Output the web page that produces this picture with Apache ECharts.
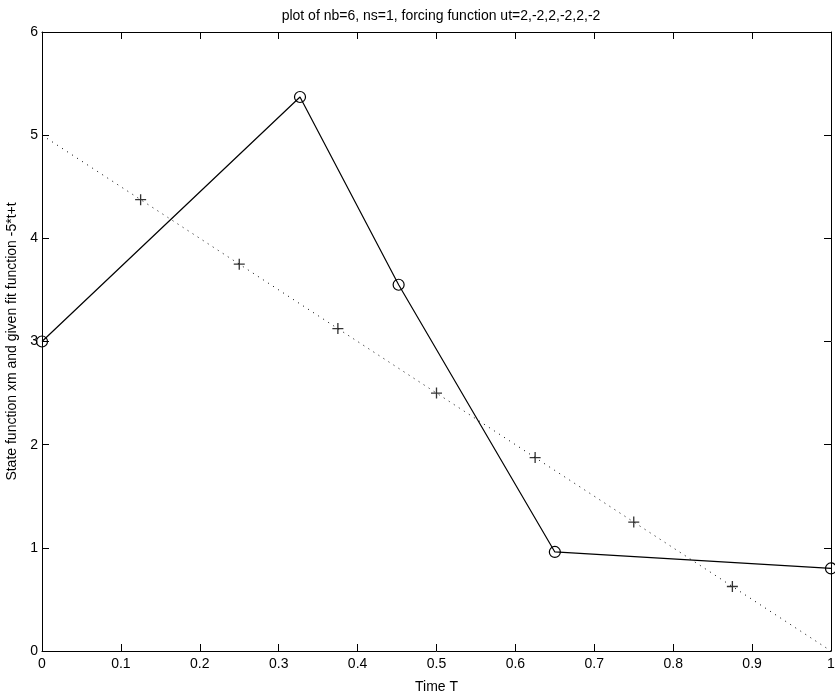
<!DOCTYPE html>
<html>
<head>
<meta charset="utf-8">
<script src="https://cdn.jsdelivr.net/npm/echarts@6/dist/echarts.min.js"></script>
<style>html,body{margin:0;padding:0;background:#fff}#c{width:835px;height:695px}</style>
</head>
<body>
<div id="c"></div>
<script>
var stateT = [0, 0.327, 0.452, 0.650, 1.0];
var stateX = [3.0, 5.37, 3.55, 0.96, 0.80];
var fitT = [0.125, 0.25, 0.375, 0.5, 0.625, 0.75, 0.875];
var fitX = [4.375, 3.75, 3.125, 2.5, 1.875, 1.25, 0.625];
var lineT = [0, 1];
var lineX = [5, 0];
var titleText = 'plot of nb=6, ns=1, forcing function ut=2,-2,2,-2,2,-2';
var xName = 'Time T';
var yName = 'State function xm and given fit function -5*t+t';

function pairs(a, b) { return a.map(function (v, i) { return [v, b[i]]; }); }

var font = 'Liberation Sans, Arial, sans-serif';
var axisCommon = {
  axisLine: { show: true, onZero: false, lineStyle: { color: '#000', width: 1 } },
  axisTick: { show: true, inside: true, length: 7, lineStyle: { color: '#000' } },
  splitLine: { show: false }
};
var chart = echarts.init(document.getElementById('c'));
chart.setOption({
  animation: false,
  backgroundColor: '#fff',
  title: { text: titleText, left: 436, top: 4, textAlign: 'center',
    textStyle: { fontFamily: font, fontSize: 14, fontWeight: 'normal', color: '#000' } },
  grid: { left: 42, right: 4, top: 32, bottom: 44, containLabel: false, outerBoundsMode: 'none' },
  xAxis: [
    Object.assign({ type: 'value', min: 0, max: 1, interval: 0.1, position: 'bottom',
      name: xName, nameLocation: 'middle', nameGap: 29,
      nameTextStyle: { fontFamily: font, fontSize: 14, color: '#000' },
      axisLabel: { fontFamily: font, fontSize: 14, color: '#000', margin: 6 } }, axisCommon),
    Object.assign({ type: 'value', min: 0, max: 1, interval: 0.1, position: 'top',
      axisLabel: { show: false } }, axisCommon)
  ],
  yAxis: [
    Object.assign({ type: 'value', min: 0, max: 6, interval: 1, position: 'left',
      name: yName, nameLocation: 'middle', nameGap: 18,
      nameTextStyle: { fontFamily: font, fontSize: 14, color: '#000' },
      axisLabel: { fontFamily: font, fontSize: 14, color: '#000', margin: 4 } }, axisCommon),
    Object.assign({ type: 'value', min: 0, max: 6, interval: 1, position: 'right',
      axisLabel: { show: false } }, axisCommon)
  ],
  series: [
    { type: 'line', data: pairs(lineT, lineX), showSymbol: false, symbol: 'none',
      lineStyle: { color: '#000', width: 1, type: [1, 5] }, silent: true },
    { type: 'scatter', data: pairs(fitT, fitX),
      symbol: 'path://M4.4,0H5.6V10H4.4Z M0,4.4H10V5.6H0Z', symbolSize: 11,
      itemStyle: { color: '#000' } },
    { type: 'line', data: pairs(stateT, stateX), clip: false,
      symbol: 'circle', symbolSize: 11, showSymbol: true,
      lineStyle: { color: '#000', width: 1.2 },
      itemStyle: { color: 'transparent', borderColor: '#000', borderWidth: 1.2 } }
  ]
});
</script>
</body>
</html>
